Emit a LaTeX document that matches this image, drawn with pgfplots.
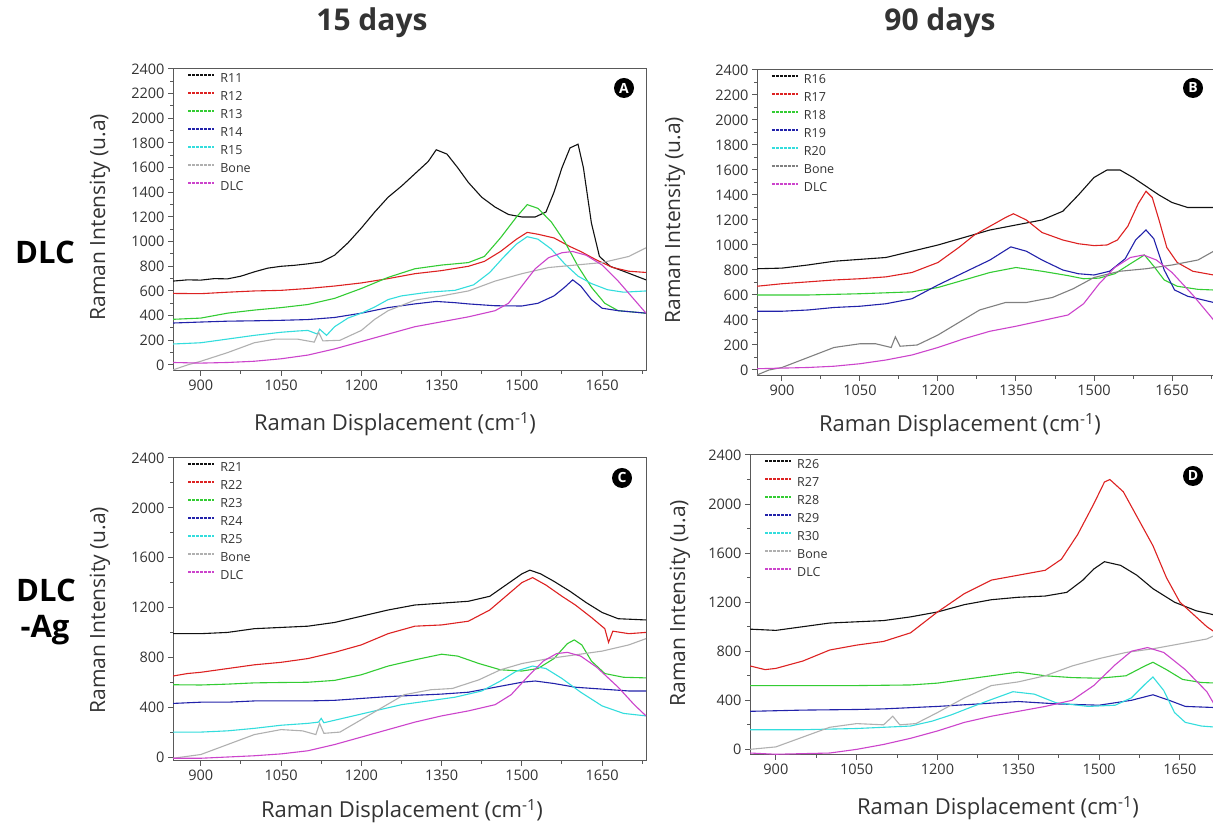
\documentclass[border=0pt]{standalone}
\usepackage{fontspec}
\setmainfont{Open Sans}
\usepackage{pgfplots}
\pgfplotsset{compat=1.18}
\definecolor{cK}{HTML}{111111}
\definecolor{cR}{HTML}{DD2222}
\definecolor{cG}{HTML}{33CC33}
\definecolor{cB}{HTML}{2222AA}
\definecolor{cC}{HTML}{33DDDD}
\definecolor{cS}{HTML}{B0B0B0}
\definecolor{cSd}{HTML}{808080}
\definecolor{cM}{HTML}{CC44CC}
\definecolor{txt}{HTML}{333333}
\pgfplotsset{
  raman/.style={
    scale only axis,
    axis line style={draw=black!65, line width=1pt},
    tick pos=left, tick align=outside,
    major tick length=5pt, minor tick length=3pt,
    tick style={draw=black!65, line width=1pt},
    xtick={900,1050,1200,1350,1500,1650},
    minor xtick={975,1125,1275,1425,1575,1725},
    ymax=2400,
    ticklabel style={font=\fontsize{14.5}{16}\selectfont, text=txt},
    /pgf/number format/assume math mode=true,
    /pgf/number format/1000 sep={},
    legend cell align=left,
    legend style={draw=none, fill=none, inner sep=0pt, anchor=north west,
      font=\fontsize{12.5}{13}\selectfont, text=txt, row sep=6.5pt,
      nodes={inner sep=0pt, text height=9pt, text depth=2.5pt}},
    /tikz/every odd column/.append style={column sep=5pt},
    legend image code/.code={\draw[##1, line width=2pt, dash pattern=on 3pt off 1pt] (0pt,4pt) -- (26pt,4pt);},
    every axis plot/.append style={line width=1.1pt},
  },
  ramanA/.style={raman, ytick={0,200,...,2400}, minor ytick={100,300,...,2300}},
  ramanC/.style={raman, ytick={0,400,...,2400}, minor ytick={200,600,...,2200}},
}
\begin{document}
\begin{tikzpicture}
\useasboundingbox (0pt,0pt) rectangle (1213pt,826pt);
\fill[white] (0pt,0pt) rectangle (1213pt,826pt);

% ---------------- Panel A ----------------
\begin{axis}[ramanA, at={(173pt,455pt)}, anchor=south west, width=473pt, height=302pt,
  xmin=848, xmax=1732, ymin=-49,
  legend style={at={(0.030,0.987)}}]
\addplot[cK] coordinates {(848,680)(875,690)(900,688)(925,700)(950,698)(975,720)(1000,755)(1025,785)(1050,800)(1075,808)(1100,820)(1125,835)(1150,890)(1175,990)(1200,1110)(1225,1240)(1250,1360)(1275,1450)(1300,1550)(1325,1650)(1340,1745)(1360,1710)(1380,1600)(1400,1480)(1425,1360)(1450,1280)(1475,1220)(1500,1200)(1525,1200)(1545,1240)(1560,1400)(1575,1600)(1590,1760)(1605,1790)(1615,1600)(1630,1150)(1645,880)(1665,800)(1690,760)(1732,690)};
\addlegendentry{R11}
\addplot[cR] coordinates {(848,580)(900,578)(950,590)(1000,600)(1050,605)(1100,620)(1150,640)(1200,665)(1250,700)(1300,740)(1350,765)(1400,800)(1430,840)(1460,920)(1490,1020)(1510,1075)(1530,1060)(1560,1030)(1590,960)(1610,920)(1640,850)(1670,790)(1700,760)(1732,750)};
\addlegendentry{R12}
\addplot[cG] coordinates {(848,370)(900,380)(950,420)(1000,445)(1050,465)(1100,490)(1150,540)(1200,620)(1250,710)(1300,780)(1350,810)(1400,830)(1430,880)(1460,1030)(1490,1200)(1510,1300)(1530,1270)(1555,1160)(1580,1000)(1605,800)(1630,630)(1655,500)(1680,440)(1732,420)};
\addlegendentry{R13}
\addplot[cB] coordinates {(848,340)(900,348)(950,355)(1000,358)(1050,362)(1100,368)(1150,385)(1200,420)(1250,465)(1300,495)(1340,515)(1375,505)(1400,495)(1450,480)(1500,478)(1530,500)(1560,560)(1580,630)(1595,690)(1610,640)(1630,530)(1650,460)(1680,440)(1732,420)};
\addlegendentry{R14}
\addplot[cC] coordinates {(848,170)(875,175)(900,180)(950,210)(1000,240)(1050,265)(1080,275)(1100,280)(1118,250)(1122,290)(1135,240)(1150,310)(1175,380)(1200,420)(1225,470)(1250,530)(1275,560)(1325,590)(1375,605)(1410,650)(1440,750)(1465,870)(1490,980)(1510,1040)(1530,1020)(1555,940)(1580,820)(1605,720)(1630,660)(1660,610)(1690,590)(1732,600)};
\addlegendentry{R15}
\addplot[cS] coordinates {(848,-40)(875,0)(900,30)(950,100)(1000,180)(1040,210)(1080,210)(1112,185)(1120,265)(1128,195)(1160,200)(1200,280)(1225,370)(1250,440)(1300,525)(1350,560)(1400,600)(1450,680)(1500,740)(1550,790)(1600,810)(1650,830)(1700,880)(1732,950)};
\addlegendentry{Bone}
\addplot[cM] coordinates {(848,20)(900,15)(950,20)(1000,30)(1050,50)(1100,80)(1150,130)(1200,190)(1250,250)(1300,310)(1350,350)(1400,390)(1450,440)(1475,500)(1500,640)(1525,780)(1550,870)(1575,910)(1595,920)(1620,890)(1650,810)(1680,680)(1710,530)(1732,420)};
\addlegendentry{DLC}
\end{axis}

% ---------------- Panel B ----------------
\begin{axis}[ramanA, at={(757pt,450pt)}, anchor=south west, width=456.6pt, height=306pt,
  xmin=852, xmax=1730, ymin=-48,
  legend style={at={(0.030,0.987)}}]
\addplot[cK] coordinates {(852,810)(900,815)(950,840)(1000,870)(1050,885)(1100,900)(1150,950)(1200,1000)(1250,1060)(1300,1120)(1350,1160)(1400,1200)(1440,1270)(1470,1400)(1500,1540)(1525,1600)(1550,1600)(1575,1540)(1600,1470)(1625,1400)(1650,1340)(1680,1300)(1730,1300)};
\addlegendentry{R16}
\addplot[cR] coordinates {(852,670)(900,690)(950,705)(1000,720)(1050,730)(1100,745)(1150,780)(1200,860)(1240,980)(1270,1080)(1300,1150)(1330,1220)(1345,1250)(1370,1200)(1400,1100)(1440,1040)(1470,1010)(1500,995)(1525,1000)(1545,1040)(1565,1150)(1585,1330)(1600,1430)(1612,1380)(1625,1200)(1640,980)(1660,860)(1690,790)(1730,760)};
\addlegendentry{R17}
\addplot[cG] coordinates {(852,600)(950,600)(1050,610)(1150,625)(1200,660)(1250,720)(1300,780)(1350,820)(1400,790)(1450,755)(1480,730)(1510,735)(1540,770)(1570,850)(1597,920)(1615,830)(1635,720)(1660,670)(1700,645)(1730,640)};
\addlegendentry{R18}
\addplot[cB] coordinates {(852,470)(900,470)(950,480)(1000,500)(1050,510)(1100,530)(1150,570)(1200,680)(1250,780)(1300,880)(1340,985)(1370,950)(1400,880)(1440,800)(1470,770)(1500,760)(1530,790)(1560,890)(1580,1040)(1600,1120)(1615,1050)(1635,800)(1655,640)(1680,590)(1730,540)};
\addlegendentry{R19}
\addlegendimage{cC}
\addlegendentry{R20}
\addplot[cSd] coordinates {(852,-40)(875,0)(900,20)(950,100)(1000,180)(1050,210)(1080,210)(1110,180)(1118,265)(1127,190)(1160,200)(1200,280)(1240,380)(1280,480)(1330,540)(1370,540)(1420,580)(1460,650)(1500,740)(1550,790)(1600,810)(1650,840)(1700,880)(1730,950)};
\addlegendentry{Bone}
\addplot[cM] coordinates {(852,10)(900,15)(950,20)(1000,30)(1050,50)(1100,80)(1150,120)(1200,180)(1250,250)(1300,310)(1350,350)(1400,395)(1450,440)(1480,530)(1510,690)(1540,820)(1570,900)(1595,920)(1620,880)(1650,780)(1690,600)(1730,400)};
\addlegendentry{DLC}
\end{axis}

% ---------------- Panel C ----------------
\begin{axis}[ramanC, at={(173pt,65pt)}, anchor=south west, width=473pt, height=303pt,
  xmin=848, xmax=1732, ymin=-32,
  legend style={at={(0.030,0.985)}}]
\addplot[cK] coordinates {(848,990)(900,990)(950,1000)(1000,1030)(1050,1040)(1100,1050)(1150,1080)(1200,1130)(1250,1180)(1300,1220)(1350,1235)(1400,1250)(1440,1290)(1470,1380)(1500,1470)(1515,1500)(1535,1470)(1560,1410)(1590,1330)(1620,1240)(1650,1160)(1680,1110)(1732,1100)};
\addlegendentry{R21}
\addplot[cR] coordinates {(848,650)(875,670)(900,680)(950,710)(1000,740)(1050,760)(1100,790)(1150,840)(1200,900)(1250,990)(1300,1050)(1350,1060)(1400,1090)(1440,1180)(1470,1290)(1500,1400)(1520,1440)(1545,1380)(1575,1290)(1600,1220)(1630,1120)(1655,1030)(1662,920)(1670,1010)(1700,990)(1732,1000)};
\addlegendentry{R22}
\addplot[cG] coordinates {(848,580)(900,578)(950,585)(1000,595)(1050,598)(1100,600)(1150,615)(1200,660)(1250,730)(1300,780)(1350,825)(1380,810)(1420,750)(1460,700)(1500,690)(1530,710)(1560,790)(1585,910)(1598,940)(1612,900)(1630,770)(1655,670)(1690,640)(1732,635)};
\addlegendentry{R23}
\addplot[cB] coordinates {(848,430)(900,440)(950,440)(1000,450)(1050,450)(1100,450)(1150,455)(1200,470)(1250,485)(1300,495)(1350,505)(1400,520)(1450,560)(1500,600)(1525,610)(1560,590)(1600,560)(1650,545)(1700,530)(1732,530)};
\addlegendentry{R24}
\addplot[cC] coordinates {(848,200)(900,200)(950,210)(1000,230)(1050,255)(1100,270)(1120,280)(1125,310)(1130,275)(1175,320)(1225,370)(1275,420)(1325,450)(1375,480)(1425,530)(1460,610)(1490,690)(1520,730)(1545,710)(1575,630)(1610,520)(1650,410)(1690,350)(1732,330)};
\addlegendentry{R25}
\addplot[cS] coordinates {(848,-10)(900,20)(950,100)(1000,180)(1050,220)(1090,210)(1115,180)(1122,270)(1130,190)(1160,200)(1200,300)(1240,400)(1280,500)(1330,540)(1370,550)(1420,620)(1460,700)(1500,750)(1550,790)(1600,820)(1650,850)(1700,900)(1732,950)};
\addlegendentry{Bone}
\addplot[cM] coordinates {(848,-10)(900,-10)(950,0)(1000,10)(1050,25)(1100,50)(1150,100)(1200,160)(1250,220)(1300,280)(1350,330)(1400,370)(1450,420)(1480,500)(1510,640)(1540,770)(1565,830)(1585,840)(1610,810)(1640,720)(1680,560)(1710,420)(1732,330)};
\addlegendentry{DLC}
\end{axis}

% ---------------- Panel D ----------------
\begin{axis}[ramanC, at={(750pt,71pt)}, anchor=south west, width=467.6pt, height=300pt,
  xmin=852, xmax=1720, ymin=-46,
  legend style={at={(0.030,0.985)}}]
\addplot[cK] coordinates {(852,980)(900,970)(950,1000)(1000,1030)(1050,1040)(1100,1050)(1150,1080)(1200,1120)(1250,1180)(1300,1220)(1350,1240)(1400,1250)(1440,1280)(1470,1380)(1490,1470)(1510,1530)(1540,1500)(1570,1420)(1600,1310)(1640,1200)(1680,1130)(1720,1090)};
\addlegendentry{R26}
\addplot[cR] coordinates {(852,680)(880,650)(900,660)(950,720)(1000,810)(1050,850)(1100,880)(1150,950)(1200,1120)(1250,1270)(1300,1380)(1350,1420)(1400,1460)(1430,1550)(1460,1750)(1490,2000)(1510,2180)(1520,2200)(1545,2100)(1570,1900)(1600,1660)(1625,1400)(1650,1200)(1680,1080)(1700,1000)(1720,940)};
\addlegendentry{R27}
\addplot[cG] coordinates {(852,520)(950,520)(1050,520)(1150,525)(1200,540)(1250,570)(1300,600)(1350,630)(1400,600)(1450,585)(1500,580)(1550,600)(1585,680)(1600,710)(1625,650)(1655,570)(1690,545)(1720,540)};
\addlegendentry{R28}
\addplot[cB] coordinates {(852,310)(950,320)(1050,325)(1100,330)(1200,350)(1275,370)(1350,390)(1425,370)(1500,360)(1560,400)(1600,445)(1630,400)(1660,350)(1720,340)};
\addlegendentry{R29}
\addplot[cC] coordinates {(852,160)(950,160)(1050,170)(1150,190)(1190,230)(1225,280)(1260,340)(1290,390)(1340,470)(1380,450)(1420,380)(1480,350)(1530,360)(1560,420)(1585,530)(1600,590)(1620,480)(1640,300)(1660,220)(1690,190)(1720,180)};
\addlegendentry{R30}
\addplot[cS] coordinates {(852,0)(900,20)(950,100)(1000,180)(1050,210)(1100,200)(1117,270)(1130,200)(1160,210)(1200,300)(1250,420)(1300,520)(1350,550)(1400,600)(1450,680)(1500,740)(1550,790)(1600,820)(1650,860)(1700,900)(1720,940)};
\addlegendentry{Bone}
\addplot[cM] coordinates {(852,-30)(900,-40)(950,-35)(1000,-30)(1050,0)(1100,40)(1150,90)(1200,150)(1250,220)(1300,270)(1350,310)(1400,350)(1450,400)(1490,520)(1530,690)(1560,800)(1590,830)(1620,790)(1660,650)(1700,470)(1720,320)};
\addlegendentry{DLC}
\end{axis}

% ---------------- Texts ----------------
\begin{scope}[x=1pt,y=1pt,every node/.style={text=txt}]
\node[font=\fontsize{30}{34}\selectfont\bfseries] at (372,803) {15 days};
\node[font=\fontsize{30}{34}\selectfont\bfseries] at (940,803) {90 days};
\node[font=\fontsize{31}{34}\selectfont\bfseries, text=black] at (45,574) {DLC};
\node[font=\fontsize{31}{34}\selectfont\bfseries, text=black] at (46,236) {DLC};
\node[font=\fontsize{31}{34}\selectfont\bfseries, text=black] at (45,196) {-Ag};
\node[font=\fontsize{22}{26}\selectfont] at (395,402) {Raman Displacement (cm\textsuperscript{-1})};
\node[font=\fontsize{22}{26}\selectfont] at (960,401) {Raman Displacement (cm\textsuperscript{-1})};
\node[font=\fontsize{22}{26}\selectfont] at (402,15) {Raman Displacement (cm\textsuperscript{-1})};
\node[font=\fontsize{22}{26}\selectfont] at (998,18) {Raman Displacement (cm\textsuperscript{-1})};
\node[font=\fontsize{21}{24}\selectfont, rotate=90] at (100,609) {Raman Intensity (u.a)};
\node[font=\fontsize{21}{24}\selectfont, rotate=90] at (675,606) {Raman Intensity (u.a)};
\node[font=\fontsize{21}{24}\selectfont, rotate=90] at (100,216) {Raman Intensity (u.a)};
\node[font=\fontsize{21}{24}\selectfont, rotate=90] at (680,223) {Raman Intensity (u.a)};
\foreach \p/\l in {{(624,738)}/A,{(1193,738)}/B,{(622,348)}/C,{(1193,350)}/D}{
  \node[circle, fill=black, inner sep=0pt, minimum size=20pt, text=white,
        font=\fontsize{14}{14}\selectfont\bfseries] at \p {\l};
}
\end{scope}
\end{tikzpicture}
\end{document}
